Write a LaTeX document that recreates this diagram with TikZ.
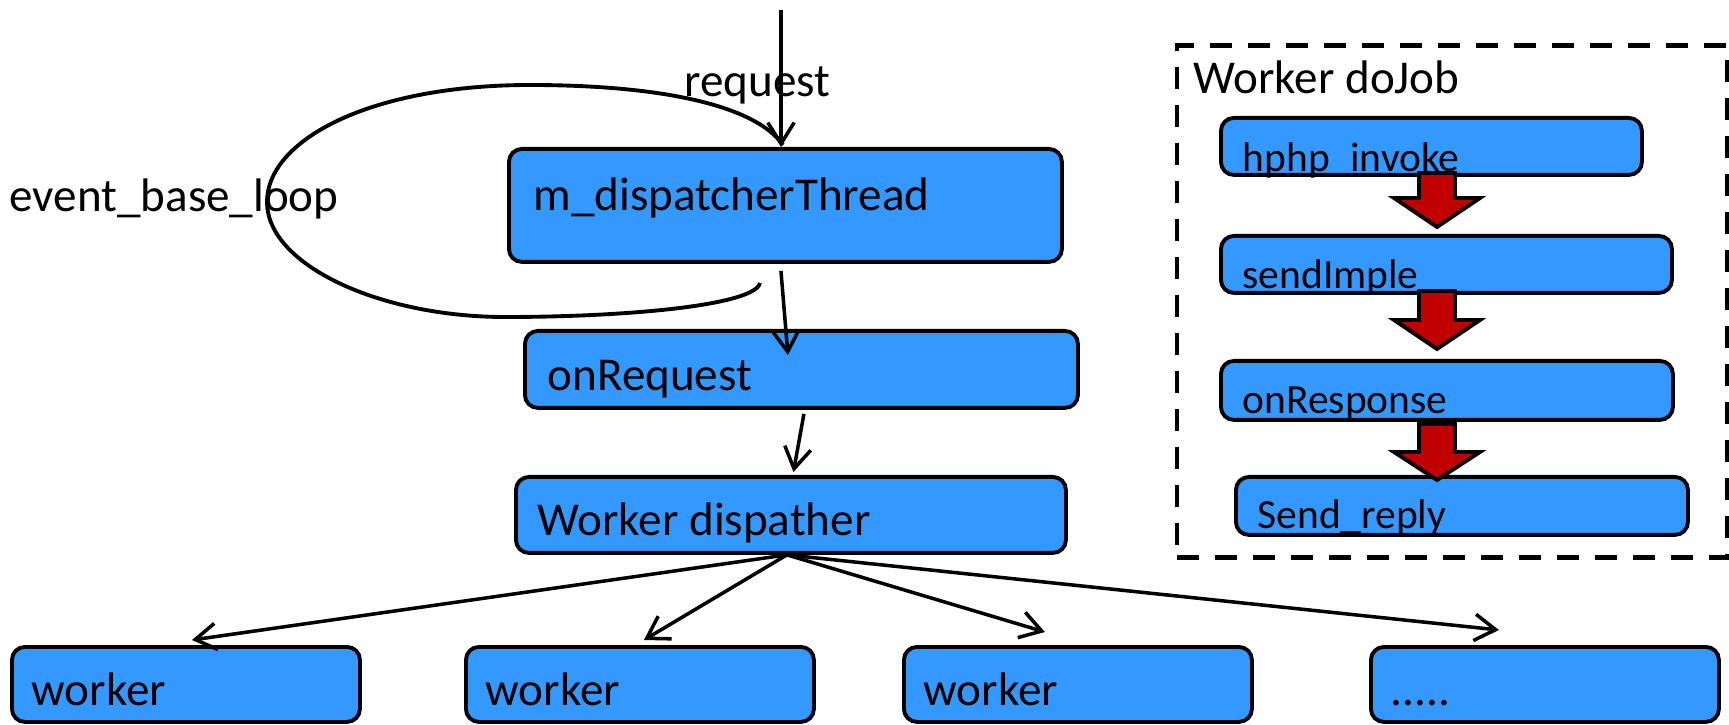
\documentclass[tikz,border=0pt]{standalone}
\usepackage{fontspec}
\setmainfont{Carlito}
\usetikzlibrary{arrows.meta}
\definecolor{boxblue}{RGB}{51,153,255}
\definecolor{arrowred}{RGB}{192,0,0}
\newcommand\bigfont{\fontsize{13.4pt}{16pt}\selectfont}
\newcommand\smallfont{\fontsize{11.8pt}{14pt}\selectfont}
\tikzset{
  box/.style={draw, line width=1.1pt, fill=boxblue, rounded corners=.13cm,
    anchor=north west, inner sep=0pt},
  txt/.style={anchor=base west, inner sep=0pt, font=\bigfont},
  smalltxt/.style={txt, font=\smallfont},
  conn/.style={line width=1pt, -{Straight Barb[length=6pt,width=7.5pt]}},
  redarrow/.style={draw, line width=1.1pt, fill=arrowred, line join=miter},
  frame/.style={draw, line width=1.4pt, dash pattern=on .22cm off .16cm}
}
\newcommand\downblock[4]{% x, top, head base, tip
  \draw[redarrow] (#1-.18,#2) -- (#1-.18,#3) -- (#1-.43,#3) -- (#1,#4)
    -- (#1+.43,#3) -- (#1+.18,#3) -- (#1+.18,#2) -- cycle;}
\begin{document}
\begin{tikzpicture}
    \useasboundingbox (0,0) rectangle (17.29,-7.25);
    %Dispatcher chain
    \node[box, minimum width=5.53cm, minimum height=1.13cm] (disp) at (5.07,-1.47) {};
    \node[txt] (disptxt) at ([shift={(.26,.53)}]disp.south west) {m\_dispatcherThread};
    \node[box, minimum width=5.53cm, minimum height=.77cm] (onreq) at (5.23,-3.29) {};
    \node[txt] (onreqtxt) at ([shift={(.24,.19)}]onreq.south west) {onRequest};
    \node[box, minimum width=5.50cm, minimum height=.76cm] (wdisp) at (5.14,-4.75) {};
    \node[txt] (wdisptxt) at ([shift={(.23,.19)}]wdisp.south west) {Worker dispather};
    %Workers
    \foreach \n/\x in {1/0.10, 2/4.64, 3/9.02}{
      \node[box, minimum width=3.48cm, minimum height=.75cm] (worker\n) at (\x,-6.45) {};
      \node[txt] (worker\n txt) at ([shift={(.21,.18)}]worker\n.south west) {worker};
    }
    \node[box, minimum width=3.48cm, minimum height=.75cm] (worker4) at (13.69,-6.45) {};
    \node[txt] (worker4txt) at ([shift={(.21,.18)}]worker4.south west) {.....};
    %Request and loop
    \coordinate (reqtop) at (7.81,-0.10);
    \draw[conn] (reqtop) -- (reqtop |- disp.north);
    \node[txt] (reqlbl) at (6.84,-0.97) {request};
    \draw[line width=1.1pt] (7.83,-1.45) .. controls (7.55,-1.05) and (6.6,-0.85) .. (5.3,-0.85)
        .. controls (3.7,-0.85) and (2.67,-1.4) .. (2.67,-2.02)
        .. controls (2.67,-2.65) and (3.8,-3.17) .. (5.05,-3.17)
        .. controls (6.3,-3.17) and (7.55,-3.05) .. (7.6,-2.83);
    \node[txt] (looplbl) at (0.09,-2.12) {event\_base\_loop};
    %Chain arrows
    \draw[conn] ([xshift=-.045cm,yshift=-.07cm]disp.south) -- ([xshift=-.135cm,yshift=-.26cm]onreq.north);
    \draw[conn] ([xshift=.025cm,yshift=-.04cm]onreq.south) -- ([xshift=.025cm,yshift=.03cm]wdisp.north);
    %Fan out
    \draw[conn] ([xshift=-.04cm]wdisp.south) -- ([xshift=.06cm,yshift=.05cm]worker1.north);
    \draw[conn] ([xshift=-.04cm]wdisp.south) -- ([xshift=.04cm,yshift=.05cm]worker2.north);
    \draw[conn] ([xshift=-.04cm]wdisp.south) -- ([xshift=-.33cm,yshift=.13cm]worker3.north);
    \draw[conn] ([xshift=-.04cm]wdisp.south) -- ([xshift=-.46cm,yshift=.15cm]worker4.north);
    %Worker doJob
    \node[frame, anchor=north west, minimum width=5.505cm, minimum height=5.12cm, inner sep=0pt] (dojob) at (11.745,-0.435) {};
    \node[txt] (dojoblbl) at (11.93,-0.94) {Worker doJob};
    \node[box, minimum width=4.21cm, minimum height=.57cm] (hphp) at (12.19,-1.16) {};
    \node[smalltxt] (hphptxt) at ([shift={(.23,.05)}]hphp.south west) {hphp\_invoke};
    \node[box, minimum width=4.51cm, minimum height=.57cm] (sendimple) at (12.19,-2.34) {};
    \node[smalltxt] (sendimpletxt) at ([shift={(.23,.06)}]sendimple.south west) {sendImple};
    \node[box, minimum width=4.52cm, minimum height=.59cm] (onresp) at (12.19,-3.59) {};
    \node[smalltxt] (onresptxt) at ([shift={(.23,.08)}]onresp.south west) {onResponse};
    \node[box, minimum width=4.52cm, minimum height=.58cm] (sendreply) at (12.34,-4.75) {};
    \node[smalltxt] (sendreplytxt) at ([shift={(.23,.08)}]sendreply.south west) {Send\_reply};
    \downblock{14.37}{-1.73}{-1.98}{-2.27}
    \downblock{14.37}{-2.91}{-3.20}{-3.49}
    \downblock{14.37}{-4.24}{-4.52}{-4.80}
\end{tikzpicture}
\end{document}
